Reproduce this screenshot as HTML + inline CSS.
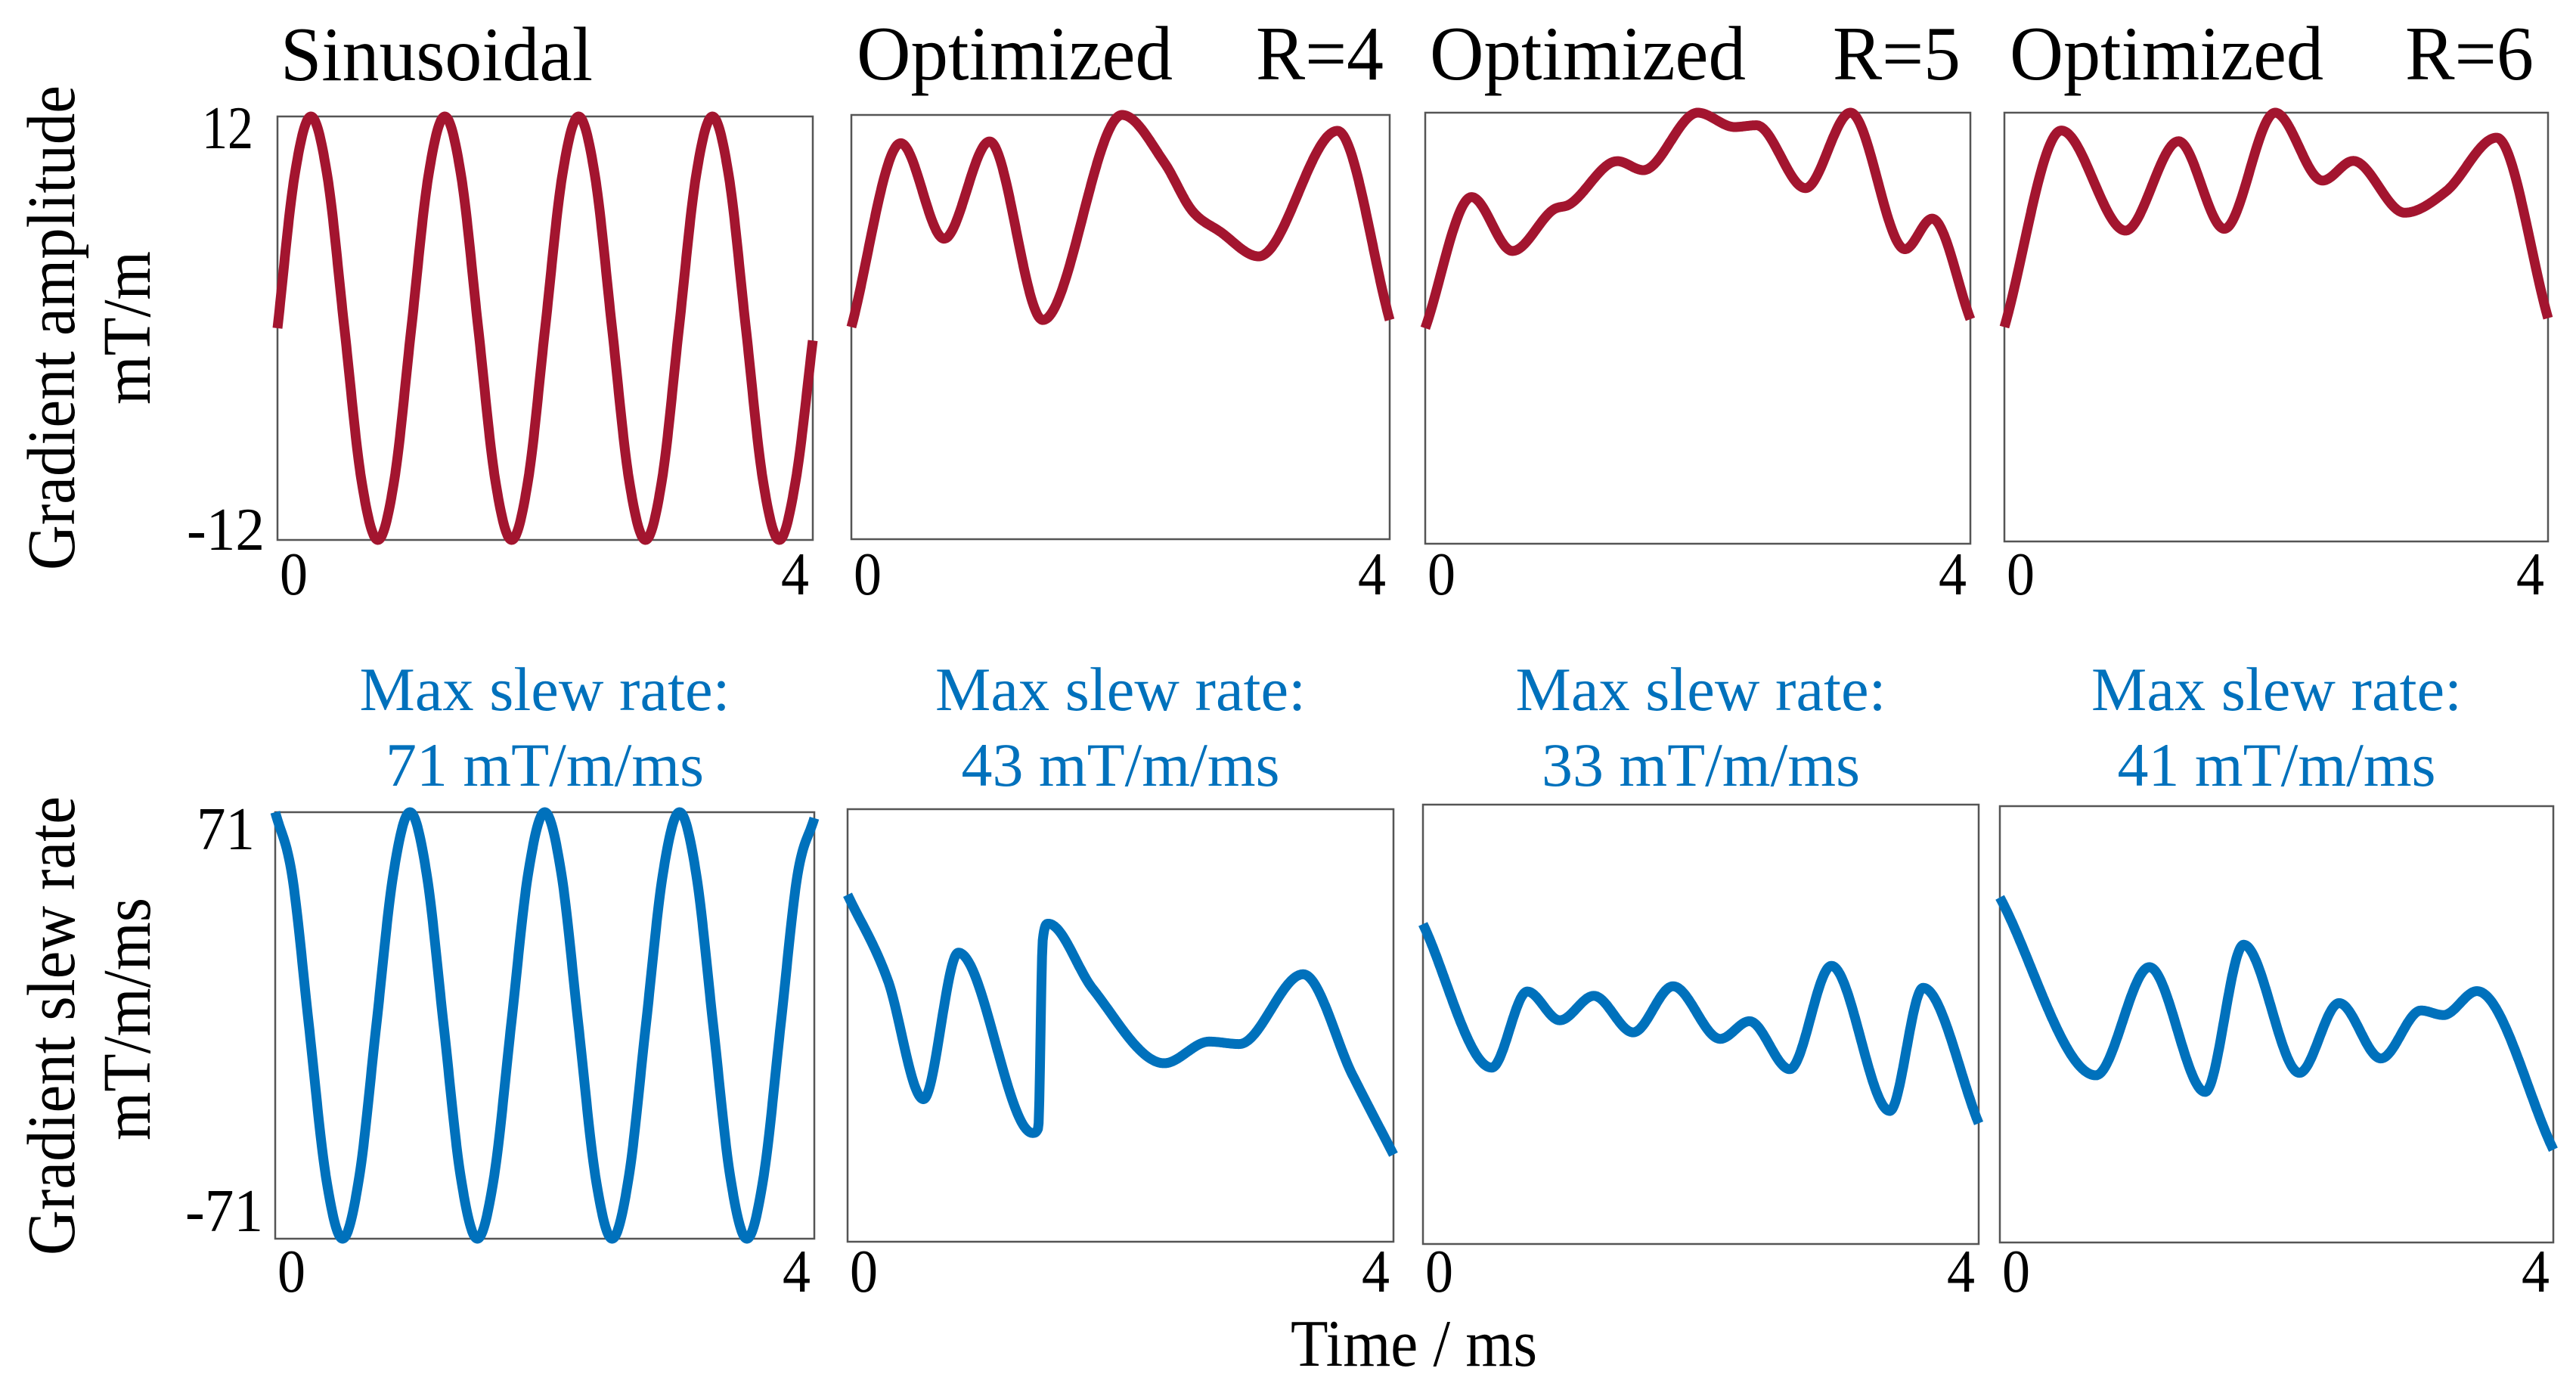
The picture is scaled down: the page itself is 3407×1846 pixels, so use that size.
<!DOCTYPE html>
<html><head><meta charset="utf-8"><title>Gradient waveforms</title>
<style>
html,body{margin:0;padding:0;background:#fff;}
svg{display:block;}
text{font-family:"Liberation Serif",serif;}
</style></head>
<body>
<svg id="fig" width="3407" height="1846" viewBox="0 0 3407 1846" xmlns="http://www.w3.org/2000/svg">
<g id="static">
  <text transform="translate(98,754) rotate(-90)" font-size="90" textLength="641" lengthAdjust="spacingAndGlyphs">Gradient amplitude</text>
  <text transform="translate(198,535) rotate(-90)" font-size="90" textLength="203" lengthAdjust="spacingAndGlyphs">mT/m</text>
  <text transform="translate(98,1660) rotate(-90)" font-size="90" textLength="607" lengthAdjust="spacingAndGlyphs">Gradient slew rate</text>
  <text transform="translate(198,1508) rotate(-90)" font-size="90" textLength="321" lengthAdjust="spacingAndGlyphs">mT/m/ms</text>
  <text x="1707" y="1806" font-size="88" textLength="326" lengthAdjust="spacingAndGlyphs">Time / ms</text>

  <text x="371" y="106" font-size="102" textLength="413" lengthAdjust="spacingAndGlyphs">Sinusoidal</text>
  <text x="1133" y="105" font-size="102" textLength="418" lengthAdjust="spacingAndGlyphs">Optimized</text>
  <text x="1661" y="105" font-size="102" textLength="169" lengthAdjust="spacingAndGlyphs">R=4</text>
  <text x="1891" y="105" font-size="102" textLength="418" lengthAdjust="spacingAndGlyphs">Optimized</text>
  <text x="2424" y="105" font-size="102" textLength="169" lengthAdjust="spacingAndGlyphs">R=5</text>
  <text x="2658" y="105" font-size="102" textLength="415" lengthAdjust="spacingAndGlyphs">Optimized</text>
  <text x="3181" y="105" font-size="102" textLength="170" lengthAdjust="spacingAndGlyphs">R=6</text>

  <text x="267" y="196" font-size="80" textLength="68" lengthAdjust="spacingAndGlyphs">12</text>
  <text x="247" y="727" font-size="80" textLength="103" lengthAdjust="spacingAndGlyphs">-12</text>
  <text x="260" y="1123" font-size="80" textLength="77" lengthAdjust="spacingAndGlyphs">71</text>
  <text x="245" y="1628" font-size="80" textLength="103" lengthAdjust="spacingAndGlyphs">-71</text>
</g>
<g id="panels"></g>
</svg>
<script>
// ---- data (time in ms, amplitude in mT/m, slew in mT/m/ms) ----
const tickLabels = ["0", "4"];
const slewTitles = ["71 mT/m/ms", "43 mT/m/ms", "33 mT/m/ms", "41 mT/m/ms"];

const sinAmpT = [0,0.125,0.25,0.375,0.5,0.625,0.75,0.875,1,1.125,1.25,1.375,1.5,1.625,1.75,1.875,2,2.125,2.25,2.375,2.5,2.625,2.75,2.875,3,3.125,3.25,3.375,3.5,3.625,3.75,3.875,4];
const sinAmpV = [0,8.5,12,8.5,0,-8.5,-12,-8.5,0,8.5,12,8.5,0,-8.5,-12,-8.5,0,8.5,12,8.5,0,-8.5,-12,-8.5,0,8.5,12,8.5,0,-8.5,-12,-8.5,-0.7];

const optR4AmpT = [0,0.367,0.689,1.027,1.423,2.012,2.326,2.53,2.74,3.027,3.612,4];
const optR4AmpV = [0,10.4,5.0,10.5,0.4,12.0,9.3,6.6,5.4,4.0,11.1,0.4];

const optR5AmpT = [0,0.34,0.64,0.94,1.06,1.41,1.6,2.0,2.27,2.43,2.79,3.12,3.52,3.72,4];
const optR5AmpV = [0,7.3,4.3,6.6,6.9,9.3,8.8,12.0,11.2,11.3,7.8,12.0,4.4,6.1,0.5];

const optR6AmpT = [0,0.419,0.891,1.281,1.618,1.992,2.341,2.567,2.945,3.25,3.622,4];
const optR6AmpV = [0,11.0,5.4,10.4,5.5,12.0,8.2,9.3,6.4,7.6,10.6,0.5];

const sinSlewT = [0,0.125,0.25,0.375,0.5,0.625,0.75,0.875,1,1.125,1.25,1.375,1.5,1.625,1.75,1.875,2,2.125,2.25,2.375,2.5,2.625,2.75,2.875,3,3.125,3.25,3.375,3.5,3.625,3.75,3.875,4];
const sinSlewV = [71,50,0,-50,-71,-50,0,50,71,50,0,-50,-71,-50,0,50,71,50,0,-50,-71,-50,0,50,71,50,0,-50,-71,-50,0,50,69];

const optR4SlewT = [0,0.292,0.556,0.812,1.356,1.397,1.43,1.47,1.795,2.32,2.65,2.87,3.338,3.7,4];
const optR4SlewV = [42.9,15.2,-24.2,23.9,-35.3,-33.7,27.9,33.4,12.1,-12.4,-5.3,-6.1,16.8,-16.3,-42.4];

const optR5SlewT = [0,0.495,0.751,0.985,1.23,1.513,1.8,2.14,2.35,2.64,2.94,3.36,3.6,4];
const optR5SlewV = [32.4,-14,10.6,1.3,9.2,-2.6,12.3,-4.7,1.0,-14.5,18.9,-28,11.8,-32];

const optR6SlewT = [0,0.694,1.081,1.484,1.762,2.165,2.452,2.754,3.044,3.206,3.448,4];
const optR6SlewV = [41.3,-16.6,18.6,-22,25.9,-15.8,6.9,-11.1,4.5,3.0,10.8,-40.8];

// ---- layout ----
const topBoxes = [{x:367,y:154,w:708,h:560},{x:1126,y:152,w:712,h:561},{x:1885,y:149,w:721,h:570},{x:2651,y:149,w:719,h:567}];
const botBoxes = [{x:364,y:1074,w:713,h:564},{x:1121,y:1070,w:722,h:572},{x:1882,y:1064,w:735,h:581},{x:2645,y:1066,w:732,h:577}];
const topSeries = [[sinAmpT,sinAmpV],[optR4AmpT,optR4AmpV],[optR5AmpT,optR5AmpV],[optR6AmpT,optR6AmpV]];
const botSeries = [[sinSlewT,sinSlewV],[optR4SlewT,optR4SlewV],[optR5SlewT,optR5SlewV],[optR6SlewT,optR6SlewV]];
const topNames = ["sinusoidal","optimized-r4","optimized-r5","optimized-r6"];
const NS = "http://www.w3.org/2000/svg";
const root = document.getElementById("panels");

function monotone(xs, ys) {
  const n = xs.length, d = [], m = new Array(n);
  for (let i = 0; i < n - 1; i++) d.push((ys[i+1]-ys[i])/(xs[i+1]-xs[i]));
  m[0] = d[0]; m[n-1] = d[n-2];
  for (let i = 1; i < n - 1; i++) m[i] = (d[i-1]*d[i] <= 0) ? 0 : (d[i-1]+d[i])/2;
  for (let i = 0; i < n - 1; i++) {
    if (d[i] === 0) { m[i] = 0; m[i+1] = 0; continue; }
    const a = m[i]/d[i], b = m[i+1]/d[i], s = a*a + b*b;
    if (s > 9) { const t = 3/Math.sqrt(s); m[i] = t*a*d[i]; m[i+1] = t*b*d[i]; }
  }
  return function(x) {
    let i = 0;
    while (i < n - 2 && x > xs[i+1]) i++;
    const h = xs[i+1]-xs[i], t = (x-xs[i])/h, t2 = t*t, t3 = t2*t;
    return (2*t3-3*t2+1)*ys[i] + (t3-2*t2+t)*h*m[i] + (-2*t3+3*t2)*ys[i+1] + (t3-t2)*h*m[i+1];
  };
}

function drawPanel(box, series, ymax, color, prefix, idx) {
  const g = document.createElementNS(NS, "g");
  
  
  const r = document.createElementNS(NS, "rect");
  
  
  r.setAttribute("x", box.x); r.setAttribute("y", box.y);
  r.setAttribute("width", box.w); r.setAttribute("height", box.h);
  r.setAttribute("fill", "none"); r.setAttribute("stroke", "#555"); r.setAttribute("stroke-width", "2.5");
  g.appendChild(r);
  const xs = v => box.x + (v/4)*box.w;
  const ys = v => box.y + (ymax - v)/(2*ymax)*box.h;
  const f = monotone(series[0], series[1]);
  let d = "";
  const N = 800;
  for (let k = 0; k <= N; k++) {
    const t = 4*k/N;
    d += (k ? "L" : "M") + xs(t).toFixed(1) + "," + ys(f(t)).toFixed(1);
  }
  const p = document.createElementNS(NS, "path");
  
  
  p.setAttribute("d", d); p.setAttribute("fill", "none");
  p.setAttribute("stroke", color); p.setAttribute("stroke-width", "13");
  p.setAttribute("stroke-linejoin", "round"); p.setAttribute("stroke-linecap", "butt");
  g.appendChild(p);
  const baseY = prefix === "amplitude" ? 786 : 1708;
  const t0 = document.createElementNS(NS, "text");
  
  
  t0.setAttribute("x", xs(0) + 3); t0.setAttribute("y", baseY); t0.setAttribute("font-size", "80");
  t0.setAttribute("textLength", "37"); t0.setAttribute("lengthAdjust", "spacingAndGlyphs");
  t0.textContent = tickLabels[0];
  g.appendChild(t0);
  const t4 = document.createElementNS(NS, "text");
  
  
  t4.setAttribute("x", xs(4) - 42); t4.setAttribute("y", baseY); t4.setAttribute("font-size", "80");
  t4.setAttribute("textLength", "37"); t4.setAttribute("lengthAdjust", "spacingAndGlyphs");
  t4.textContent = tickLabels[1];
  g.appendChild(t4);
  root.appendChild(g);
}

for (let i = 0; i < 4; i++) {
  drawPanel(topBoxes[i], topSeries[i], 12, "#A3152F", "amplitude", topNames[i]);
  drawPanel(botBoxes[i], botSeries[i], 71, "#0071BC", "slew", topNames[i]);
  const cx = botBoxes[i].x + botBoxes[i].w/2;
  const a = document.createElementNS(NS, "text");
  
  
  a.setAttribute("x", cx); a.setAttribute("y", 939); a.setAttribute("text-anchor", "middle");
  a.setAttribute("font-size", "82"); a.setAttribute("fill", "#0071BC");
  a.setAttribute("textLength", "490"); a.setAttribute("lengthAdjust", "spacingAndGlyphs");
  a.textContent = "Max slew rate:";
  root.appendChild(a);
  const b = document.createElementNS(NS, "text");
  
  
  b.setAttribute("x", cx); b.setAttribute("y", 1039); b.setAttribute("text-anchor", "middle");
  b.setAttribute("font-size", "82"); b.setAttribute("fill", "#0071BC");
  b.setAttribute("textLength", "421"); b.setAttribute("lengthAdjust", "spacingAndGlyphs");
  b.textContent = slewTitles[i];
  root.appendChild(b);
}
</script>
</body></html>
